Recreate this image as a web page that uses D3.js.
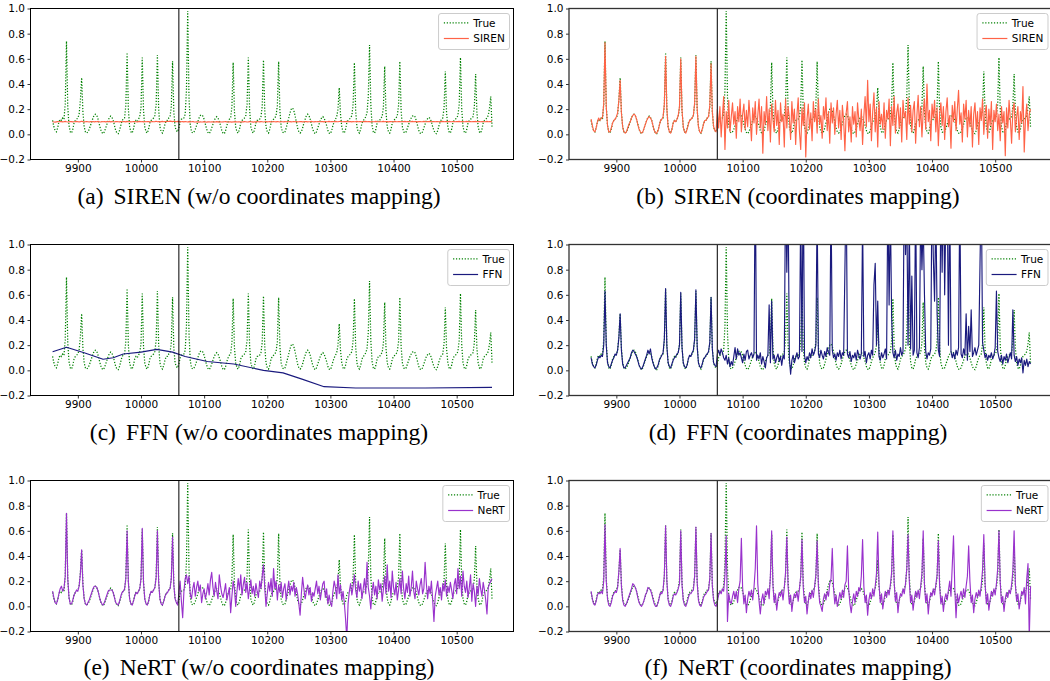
<!DOCTYPE html>
<html>
<head>
<meta charset="utf-8">
<script src="https://cdn.jsdelivr.net/npm/d3@7"></script>
<style>
  html, body { margin: 0; padding: 0; background: #fff; }
  svg { display: block; }
</style>
</head>
<body>
<script>
// Hourly samples, every second hour starting at t = 9860
const startHour = 9860;
const stepHours = 2;
const xDomain = [9825, 10590];
const yDomain = [-0.2, 1.0];
const xTicks = [9900, 10000, 10100, 10200, 10300, 10400, 10500];
const yTicks = [-0.2, 0.0, 0.2, 0.4, 0.6, 0.8, 1.0];
const splitHour = 10060;

// Ground truth load, one row per day
const trueLoad = [
  0.11,0.06,0.03,0.02,0.05,0.10,0.12,
  0.11,0.13,0.12,0.24,0.74,0.22,0.07,0.02,0.01,0.04,0.09,0.11,
  0.12,0.13,0.16,0.27,0.45,0.18,0.06,0.02,0.01,0.02,0.04,0.07,
  0.10,0.13,0.155,0.16,0.15,0.12,0.08,0.04,0.015,0.005,0.02,0.05,
  0.08,0.11,0.135,0.145,0.135,0.11,0.07,0.03,0.01,0.005,0.03,0.07,
  0.11,0.12,0.13,0.23,0.65,0.20,0.06,0.02,0.01,0.04,0.09,0.11,
  0.10,0.12,0.14,0.21,0.61,0.19,0.06,0.02,0.01,0.04,0.09,0.11,
  0.12,0.13,0.15,0.24,0.63,0.20,0.06,0.02,0.01,0.04,0.08,0.11,
  0.11,0.13,0.14,0.22,0.58,0.18,0.06,0.03,0.02,0.05,0.10,0.12,
  0.12,0.13,0.16,0.35,0.98,0.30,0.08,0.02,0.01,0.02,0.04,0.07,
  0.10,0.13,0.15,0.155,0.145,0.12,0.08,0.04,0.015,0.005,0.02,0.05,
  0.08,0.11,0.13,0.14,0.13,0.10,0.07,0.03,0.01,0.005,0.03,0.07,
  0.10,0.12,0.13,0.22,0.57,0.18,0.06,0.02,0.01,0.04,0.09,0.11,
  0.12,0.13,0.15,0.24,0.61,0.20,0.06,0.02,0.01,0.04,0.09,0.11,
  0.11,0.12,0.14,0.22,0.59,0.19,0.06,0.02,0.01,0.04,0.09,0.11,
  0.12,0.13,0.15,0.23,0.58,0.19,0.06,0.02,0.01,0.02,0.05,0.09,
  0.13,0.17,0.20,0.21,0.19,0.15,0.10,0.05,0.02,0.01,0.02,0.05,
  0.09,0.12,0.15,0.16,0.15,0.12,0.08,0.04,0.015,0.005,0.02,0.05,
  0.08,0.11,0.13,0.14,0.13,0.10,0.07,0.03,0.01,0.005,0.03,0.07,
  0.10,0.12,0.14,0.20,0.37,0.16,0.06,0.02,0.01,0.04,0.09,0.11,
  0.12,0.13,0.15,0.24,0.57,0.19,0.06,0.02,0.01,0.04,0.09,0.11,
  0.12,0.14,0.17,0.30,0.71,0.24,0.07,0.02,0.01,0.04,0.09,0.11,
  0.11,0.13,0.14,0.22,0.54,0.18,0.06,0.02,0.01,0.04,0.09,0.11,
  0.12,0.13,0.15,0.23,0.58,0.19,0.06,0.02,0.01,0.02,0.05,0.08,
  0.11,0.13,0.145,0.15,0.14,0.11,0.07,0.03,0.01,0.005,0.02,0.05,
  0.08,0.11,0.125,0.135,0.125,0.10,0.06,0.03,0.01,0.005,0.03,0.07,
  0.10,0.12,0.13,0.21,0.50,0.17,0.06,0.02,0.01,0.04,0.09,0.11,
  0.12,0.13,0.15,0.24,0.61,0.20,0.06,0.02,0.01,0.04,0.09,0.11,
  0.12,0.13,0.14,0.22,0.48,0.18,0.06,0.02,0.01,0.04,0.09,0.11,
  0.12,0.13,0.15,0.21,0.30,0.06
];

// SIREN fed with raw time stamps
const sirenPlain = [
  0.100,0.098,0.097,0.099,0.101,0.100,0.102,
  0.101,0.099,0.100,0.103,0.100,0.098,0.100,0.102,0.101,0.099,0.100,0.101,
  0.103,0.100,0.099,0.101,0.104,0.101,0.099,0.100,0.102,0.100,0.098,0.101,
  0.100,0.102,0.099,0.101,0.100,0.103,0.100,0.098,0.101,0.100,0.102,0.099,
  0.101,0.100,0.103,0.099,0.101,0.100,0.098,0.101,0.102,0.100,0.099,0.101,
  0.100,0.102,0.101,0.099,0.103,0.100,0.101,0.099,0.100,0.102,0.101,0.100,
  0.099,0.101,0.103,0.100,0.102,0.099,0.101,0.100,0.102,0.101,0.099,0.100,
  0.102,0.100,0.101,0.104,0.100,0.102,0.099,0.101,0.103,0.100,0.102,0.101,
  0.104,0.102,0.105,0.103,0.101,0.104,0.102,0.100,0.103,0.101,0.102,0.100,
  0.101,0.099,0.102,0.100,0.098,0.101,0.099,0.100,0.102,0.099,0.098,0.100,
  0.099,0.097,0.100,0.098,0.099,0.101,0.098,0.097,0.099,0.100,0.098,0.099,
  0.100,0.098,0.099,0.101,0.099,0.097,0.100,0.098,0.099,0.100,0.101,0.099,
  0.098,0.100,0.099,0.097,0.100,0.099,0.101,0.098,0.100,0.099,0.098,0.100,
  0.099,0.101,0.100,0.098,0.099,0.101,0.100,0.099,0.097,0.100,0.099,0.101,
  0.100,0.099,0.101,0.100,0.098,0.100,0.102,0.099,0.100,0.101,0.099,0.100,
  0.101,0.100,0.099,0.102,0.100,0.098,0.101,0.100,0.099,0.101,0.100,0.102,
  0.100,0.101,0.099,0.100,0.102,0.100,0.101,0.099,0.100,0.102,0.101,0.099,
  0.100,0.102,0.101,0.099,0.100,0.101,0.103,0.100,0.099,0.101,0.100,0.102,
  0.101,0.100,0.102,0.101,0.099,0.102,0.100,0.101,0.103,0.100,0.101,0.102,
  0.100,0.103,0.101,0.100,0.102,0.104,0.101,0.100,0.102,0.101,0.103,0.100,
  0.102,0.101,0.099,0.102,0.100,0.101,0.103,0.100,0.102,0.101,0.100,0.102,
  0.101,0.103,0.100,0.102,0.101,0.099,0.102,0.100,0.101,0.103,0.101,0.100,
  0.102,0.100,0.101,0.103,0.100,0.102,0.101,0.099,0.101,0.102,0.100,0.101,
  0.103,0.101,0.100,0.102,0.101,0.100,0.102,0.101,0.103,0.100,0.101,0.102,
  0.100,0.101,0.103,0.100,0.102,0.101,0.099,0.101,0.102,0.100,0.101,0.103,
  0.101,0.100,0.102,0.101,0.103,0.100,0.102,0.101,0.100,0.102,0.101,0.100,
  0.102,0.101,0.103,0.100,0.101,0.102,0.100,0.103,0.101,0.100,0.102,0.101,
  0.100,0.102,0.101,0.103,0.100,0.101,0.102,0.100,0.101,0.103,0.100,0.102,
  0.101,0.100,0.102,0.101,0.103,0.100,0.101,0.102,0.100,0.101,0.102,0.100,
  0.101,0.103,0.100,0.102,0.101,0.100
];

// SIREN fed with mapped coordinates
const sirenMapped = [
  0.12,0.07,0.03,0.02,0.05,0.10,0.13,
  0.11,0.13,0.13,0.24,0.73,0.22,0.07,0.02,0.02,0.05,0.09,0.11,
  0.12,0.14,0.17,0.27,0.43,0.17,0.06,0.02,0.01,0.02,0.05,0.08,
  0.10,0.13,0.15,0.16,0.15,0.12,0.08,0.04,0.02,0.01,0.02,0.05,
  0.08,0.11,0.13,0.14,0.13,0.11,0.07,0.03,0.01,0.01,0.03,0.07,
  0.11,0.12,0.14,0.24,0.62,0.20,0.06,0.02,0.01,0.04,0.09,0.11,
  0.10,0.12,0.15,0.22,0.60,0.19,0.06,0.02,0.01,0.04,0.08,0.11,
  0.12,0.13,0.15,0.25,0.62,0.20,0.06,0.02,0.01,0.04,0.08,0.11,
  0.11,0.13,0.14,0.23,0.56,0.18,0.06,0.03,0.02,
  0.20,0.05,0.22,-0.02,0.15,0.30,-0.12,0.18,0.05,0.27,0.02,0.14,
  0.25,0.08,0.18,-0.03,0.22,0.10,0.28,0.02,0.16,0.24,0.04,0.19,
  0.06,0.27,0.12,-0.05,0.21,0.09,0.26,0.00,0.15,0.28,0.05,0.22,
  -0.15,0.18,0.08,0.30,0.03,0.20,-0.06,0.24,0.12,0.02,0.27,0.07,
  0.19,-0.08,0.25,0.10,0.16,-0.10,0.28,0.05,0.22,0.13,-0.04,0.26,
  0.09,0.20,-0.08,0.15,0.29,0.02,-0.12,0.21,0.07,0.25,-0.18,0.12,
  0.24,0.04,0.17,-0.05,0.26,0.10,0.20,0.01,0.28,0.08,0.15,-0.03,
  0.22,0.12,0.29,0.03,0.18,-0.07,0.25,0.09,0.21,0.00,0.16,0.27,
  0.05,0.19,-0.04,0.23,0.11,-0.13,0.17,0.26,0.02,0.14,-0.06,0.22,
  0.08,0.18,-0.02,0.25,0.12,0.03,0.20,-0.08,0.15,0.30,0.06,0.43,
  0.10,0.24,-0.05,0.18,0.33,0.02,0.21,-0.10,0.26,0.08,0.16,0.04,
  0.25,-0.03,0.19,0.12,0.28,-0.09,0.22,0.07,0.30,0.01,0.17,0.24,
  0.05,0.21,-0.06,0.27,0.13,0.18,-0.04,0.29,0.08,0.23,0.02,0.19,
  0.26,-0.07,0.15,0.31,0.06,0.22,-0.02,0.18,0.28,0.04,0.40,0.10,
  0.19,-0.05,0.24,0.13,0.27,0.02,0.21,-0.09,0.16,0.25,0.07,0.22,
  -0.04,0.18,0.29,0.06,0.15,-0.11,0.23,0.10,0.26,0.03,0.20,0.35,
  0.08,0.17,-0.06,0.24,0.12,0.27,-0.02,0.19,0.06,0.22,-0.10,0.16,
  0.25,0.04,0.18,-0.08,0.21,0.11,0.28,0.00,0.17,0.23,-0.03,0.20,
  0.07,0.26,-0.12,0.19,0.10,0.24,0.03,0.16,-0.05,0.22,0.09,0.18,
  -0.17,0.21,0.05,0.27,0.12,-0.07,0.19,0.25,0.02,0.14,0.22,-0.04,
  0.18,0.09,0.38,-0.14,0.12,0.24,0.03,0.16,0.20
];

// FFN fed with raw time stamps (smooth curve, knots)
const ffnPlainX = [9860, 9882, 9910, 9940, 9956, 9972, 10000, 10025, 10050, 10070, 10105, 10147, 10194, 10225, 10255, 10290, 10340, 10450, 10556];
const ffnPlainY = [0.148, 0.183, 0.140, 0.088, 0.100, 0.130, 0.145, 0.167, 0.145, 0.110, 0.070, 0.050, 0.000, -0.020, -0.070, -0.130, -0.140, -0.140, -0.135];

// FFN fed with mapped coordinates
const ffnMapped = [
  0.10,0.05,0.03,0.02,0.04,0.08,0.11,
  0.10,0.12,0.11,0.20,0.63,0.20,0.06,0.03,0.02,0.05,0.08,0.10,
  0.13,0.12,0.16,0.26,0.45,0.16,0.05,0.02,0.02,0.04,0.06,0.08,
  0.10,0.14,0.16,0.15,0.13,0.11,0.08,0.04,0.02,0.01,0.03,0.06,
  0.09,0.12,0.16,0.13,0.17,0.10,0.06,0.03,0.01,0.02,0.04,0.08,
  0.10,0.12,0.14,0.25,0.65,0.19,0.06,0.03,0.02,0.05,0.08,0.10,
  0.11,0.13,0.14,0.20,0.62,0.18,0.06,0.03,0.02,0.04,0.09,0.12,
  0.11,0.14,0.16,0.25,0.64,0.19,0.06,0.03,0.02,0.05,0.09,0.10,
  0.12,0.13,0.15,0.22,0.58,0.17,0.06,0.04,0.03,
  0.13,0.16,0.12,0.17,0.14,0.10,0.08,0.12,0.05,0.10,0.03,0.07,
  0.04,0.11,0.18,0.09,0.17,0.12,0.14,0.10,0.06,0.13,0.08,0.15,
  0.16,0.09,0.12,0.14,0.10,0.13,1.60,0.08,0.12,0.09,0.14,0.05,
  0.11,0.07,0.02,0.10,0.12,0.52,0.06,0.55,0.09,0.12,0.06,0.10,
  0.13,0.07,0.11,0.04,0.12,0.09,1.50,0.78,1.40,0.10,-0.03,0.08,
  0.12,0.06,0.10,0.14,0.09,0.11,1.30,0.15,1.60,0.12,0.06,0.11,
  0.08,0.14,0.10,0.17,0.12,0.15,0.20,1.30,0.13,0.10,0.16,0.12,
  0.09,0.15,0.11,0.18,0.14,0.12,1.40,0.16,0.10,0.13,0.08,0.14,
  0.11,0.16,0.09,0.14,0.12,0.80,1.50,0.13,0.10,0.15,0.07,0.12,
  0.10,0.14,0.08,0.16,0.12,0.09,0.13,1.20,0.11,0.15,0.06,0.12,
  0.14,0.09,0.16,0.12,0.68,0.85,0.20,0.55,0.11,0.08,0.14,0.10,
  0.13,0.17,0.09,1.40,0.52,1.30,0.42,0.14,0.10,0.16,0.08,0.13,
  0.11,0.18,0.12,0.15,1.50,0.92,1.30,0.20,1.20,0.17,0.75,0.12,
  0.16,1.40,0.14,0.10,0.18,1.30,0.80,1.20,0.60,0.15,0.09,0.14,
  0.12,0.17,1.50,0.90,0.55,1.30,0.45,0.16,0.11,1.40,0.78,1.60,
  0.60,1.30,1.50,0.20,1.40,0.15,0.10,0.14,0.09,0.16,0.12,0.18,
  1.40,0.13,0.10,0.17,0.12,0.45,0.08,0.35,0.15,0.48,0.11,0.14,
  0.18,0.12,0.16,0.20,0.85,1.50,0.22,0.16,0.10,0.13,0.08,0.12,
  0.10,0.14,0.09,0.12,0.18,0.63,0.15,0.10,0.07,0.12,0.05,0.11,
  0.08,0.13,0.06,0.10,0.14,0.09,0.48,0.12,0.07,0.11,0.04,0.09,
  0.06,0.10,-0.02,0.08,0.04,0.09,0.03,0.07,0.05
];

// NeRT fed with raw time stamps
const nertPlain = [
  0.12,0.07,0.03,0.02,0.05,0.10,0.14,
  0.16,0.12,0.14,0.24,0.74,0.22,0.07,0.02,0.02,0.05,0.09,0.11,
  0.13,0.12,0.16,0.26,0.45,0.17,0.06,0.02,0.01,0.03,0.05,0.08,
  0.11,0.14,0.16,0.16,0.15,0.12,0.08,0.04,0.02,0.01,0.03,0.06,
  0.09,0.12,0.13,0.13,0.13,0.11,0.07,0.03,0.02,0.01,0.04,0.08,
  0.11,0.12,0.14,0.22,0.60,0.19,0.06,0.02,0.01,0.04,0.08,0.11,
  0.10,0.12,0.14,0.22,0.62,0.19,0.06,0.02,0.01,0.04,0.09,0.12,
  0.11,0.13,0.15,0.23,0.60,0.19,0.06,0.02,0.01,0.04,0.08,0.10,
  0.11,0.13,0.14,0.22,0.55,0.17,0.06,0.03,0.01,
  0.10,0.20,0.04,-0.09,0.12,0.22,0.25,0.18,0.24,0.10,0.06,0.14,
  0.19,0.08,0.15,0.20,0.12,0.17,0.03,0.10,0.14,0.06,0.11,0.18,
  0.09,0.21,0.27,0.15,0.08,0.19,0.12,0.06,0.25,0.16,0.10,0.07,
  0.12,0.18,0.05,0.10,0.15,-0.05,0.08,0.20,0.14,0.00,0.12,0.22,
  0.13,0.25,0.09,0.17,0.23,0.11,0.19,0.06,0.14,0.21,0.10,0.16,
  0.08,0.18,0.12,0.07,0.20,0.14,0.24,0.33,0.15,0.00,0.10,0.19,
  0.12,0.22,0.08,0.30,0.14,0.20,0.05,0.17,0.11,0.19,0.07,0.14,
  0.18,0.05,0.13,0.20,0.09,0.16,0.12,0.19,0.08,0.15,0.10,0.02,
  -0.07,0.10,0.23,0.14,0.06,0.12,0.17,0.09,0.15,0.04,0.11,0.08,
  0.14,0.20,0.10,0.16,0.05,0.12,0.18,0.20,0.07,0.14,0.02,0.09,
  0.03,0.00,0.12,0.20,0.15,0.06,0.25,0.10,0.17,0.05,0.12,0.03,
  -0.10,-0.26,0.02,0.12,0.18,0.09,0.16,0.25,0.13,0.07,0.20,0.12,
  0.18,0.06,0.14,0.22,0.10,0.35,0.15,0.08,-0.02,0.12,0.19,0.09,
  0.16,0.06,0.21,0.13,0.18,0.04,0.14,0.24,0.10,0.33,0.12,0.20,
  0.07,0.28,0.15,0.09,0.19,0.05,0.13,0.22,0.10,0.28,0.14,0.06,
  0.18,0.11,0.24,0.08,0.15,0.28,0.12,0.06,0.20,0.14,0.09,0.17,
  0.22,0.10,0.14,0.35,0.18,0.06,0.16,0.10,0.20,0.05,-0.12,0.08,
  0.14,0.20,0.09,0.15,0.05,0.18,0.12,0.21,0.08,0.16,0.11,0.19,
  0.13,0.06,0.17,0.22,0.10,0.30,0.14,0.24,0.08,0.28,0.16,0.11,
  0.20,0.07,0.15,0.25,0.04,0.18,0.12,0.00,0.16,0.09,0.22,0.14,
  0.08,0.19,0.13,0.05,-0.06,0.15,0.18,0.20,0.22
];

// NeRT fed with mapped coordinates
const nertMapped = [
  0.12,0.06,0.02,0.01,0.04,0.09,0.11,
  0.10,0.12,0.10,0.20,0.65,0.20,0.06,0.01,0.00,0.03,0.08,0.10,
  0.12,0.11,0.15,0.28,0.46,0.16,0.05,0.01,0.00,0.02,0.05,0.08,
  0.11,0.14,0.18,0.17,0.15,0.12,0.07,0.03,0.01,0.00,0.02,0.05,
  0.09,0.11,0.15,0.14,0.13,0.10,0.06,0.02,0.00,0.00,0.03,0.07,
  0.11,0.10,0.13,0.25,0.64,0.20,0.05,0.01,0.00,0.03,0.08,0.10,
  0.09,0.11,0.14,0.18,0.60,0.17,0.05,0.01,0.00,0.03,0.07,0.10,
  0.10,0.12,0.13,0.24,0.63,0.19,0.05,0.01,0.00,0.03,0.07,0.09,
  0.10,0.12,0.13,0.22,0.58,0.16,0.05,0.01,0.00,
  0.04,0.09,0.12,
  0.10,0.14,0.12,0.25,0.56,-0.12,0.10,0.04,0.02,0.08,0.12,0.06,
  0.12,0.03,0.14,0.20,0.54,0.15,0.02,0.09,-0.05,0.06,0.12,0.08,
  0.13,0.05,0.15,0.30,0.64,0.18,0.04,-0.06,0.05,0.10,0.02,0.12,
  0.09,0.14,0.06,0.25,0.60,0.17,0.03,0.10,-0.03,0.06,0.11,0.08,
  0.13,0.05,0.15,0.27,0.55,0.16,0.02,0.09,-0.04,0.05,0.10,0.07,
  0.12,0.04,0.14,0.24,0.53,0.15,0.03,0.08,-0.06,0.04,0.11,0.06,
  0.13,0.07,0.16,0.25,0.52,0.16,0.03,0.00,-0.04,0.06,0.10,0.05,
  0.12,0.08,0.18,0.22,0.46,0.14,0.02,0.09,0.00,0.05,0.11,0.06,
  0.13,0.07,0.17,0.20,0.48,0.13,0.02,-0.05,0.04,0.10,0.03,0.12,
  0.08,0.15,0.12,0.24,0.53,0.16,0.03,0.09,-0.07,0.05,0.11,0.06,
  0.14,0.08,0.16,0.26,0.59,0.18,0.03,0.10,-0.02,0.06,0.12,0.07,
  0.13,0.09,0.17,0.27,0.60,0.19,0.04,0.11,-0.05,0.05,0.10,0.08,
  0.14,0.10,0.18,0.30,0.57,0.20,0.03,0.09,-0.03,0.06,0.12,0.07,
  0.13,0.06,0.16,0.26,0.60,0.17,0.03,0.10,-0.06,0.05,0.11,0.08,
  0.14,0.09,0.17,0.25,0.52,0.16,0.02,0.08,-0.04,0.06,0.10,0.05,
  0.13,0.20,0.08,0.32,0.56,0.15,-0.09,0.10,0.03,0.08,0.12,0.06,
  0.14,0.07,0.16,0.24,0.48,0.20,0.03,0.09,-0.05,0.06,0.11,0.07,
  0.13,0.08,0.17,0.29,0.57,0.18,0.02,0.10,-0.03,0.05,0.12,0.08,
  0.14,0.09,0.18,0.30,0.60,0.19,0.03,0.08,-0.04,0.06,0.11,0.07,
  0.13,0.10,0.17,0.28,0.60,0.17,0.04,0.10,-0.02,0.05,0.12,0.09,
  0.15,0.02,0.22,0.34,-0.25,0.16
];

const panels = [
  { col: 0, row: 0, tag: "(a)", model: "SIREN", note: "(w/o coordinates mapping)", color: "#ff6347", values: sirenPlain },
  { col: 1, row: 0, tag: "(b)", model: "SIREN", note: "(coordinates mapping)",     color: "#ff6347", values: sirenMapped },
  { col: 0, row: 1, tag: "(c)", model: "FFN",   note: "(w/o coordinates mapping)", color: "#1a1a7e", values: ffnPlainY, xs: ffnPlainX },
  { col: 1, row: 1, tag: "(d)", model: "FFN",   note: "(coordinates mapping)",     color: "#1a1a7e", values: ffnMapped },
  { col: 0, row: 2, tag: "(e)", model: "NeRT",  note: "(w/o coordinates mapping)", color: "#9932cc", values: nertPlain },
  { col: 1, row: 2, tag: "(f)", model: "NeRT",  note: "(coordinates mapping)",     color: "#9932cc", values: nertMapped }
];

// Layout
const W = 1050, H = 681;
const colLeft = [30.5, 569];
const rowTop = [8.5, 244.5, 480.5];
const plotW = 483, plotH = 151;
const captionX = [259, 798];
const captionY = [204, 440, 675];
const tickFont = "DejaVu Sans, sans-serif";
const captionFont = "Liberation Serif, 'Times New Roman', serif";
const trueColor = "#008000";
const frameStyle = [
  { color: "#000", width: 1 },
  { color: "#333", width: 1.3 }
];

const svg = d3.select("body").append("svg")
  .attr("width", W).attr("height", H)
  .attr("viewBox", `0 0 ${W} ${H}`);

const x = d3.scaleLinear().domain(xDomain).range([0, plotW]);
const y = d3.scaleLinear().domain(yDomain).range([plotH, 0]);
const fmt = d3.format(".1f");

function seriesLine(xs) {
  return d3.line()
    .x((d, i) => x(xs ? xs[i] : startHour + stepHours * i))
    .y(d => y(d));
}

panels.forEach((p, idx) => {
  const fs = frameStyle[p.col];
  const g = svg.append("g")
    .attr("transform", `translate(${colLeft[p.col]},${rowTop[p.row]})`);

  const clipId = "clip-" + idx;
  g.append("clipPath").attr("id", clipId)
    .append("rect").attr("x", 0).attr("y", 0).attr("width", plotW).attr("height", plotH);

  const plot = g.append("g").attr("clip-path", `url(#${clipId})`);

  plot.append("path")
    .datum(trueLoad)
    .attr("d", seriesLine(null))
    .attr("fill", "none")
    .attr("stroke", trueColor)
    .attr("stroke-width", 1.25)
    .attr("stroke-dasharray", "1.2,1.7");

  plot.append("path")
    .datum(p.values)
    .attr("d", seriesLine(p.xs))
    .attr("fill", "none")
    .attr("stroke", p.color)
    .attr("stroke-width", 1.15)
    .attr("stroke-linejoin", "round");

  // train / test boundary
  g.append("line")
    .attr("x1", x(splitHour)).attr("x2", x(splitHour))
    .attr("y1", 0).attr("y2", plotH)
    .attr("stroke", fs.color).attr("stroke-width", fs.width);

  // axes
  const ax = g.append("g")
    .attr("transform", `translate(0,${plotH})`)
    .call(d3.axisBottom(x).tickValues(xTicks).tickFormat(d3.format("d")).tickSize(3).tickPadding(2));
  const ay = g.append("g")
    .call(d3.axisLeft(y).tickValues(yTicks).tickFormat(fmt).tickSize(3).tickPadding(2.5));
  [ax, ay].forEach(a => {
    a.select(".domain").remove();
    a.selectAll("line").attr("stroke", "#000").attr("stroke-width", 0.8);
    a.selectAll("text")
      .attr("fill", "#000")
      .style("font-family", tickFont)
      .style("font-size", "10.5px");
  });

  g.append("rect")
    .attr("x", 0).attr("y", 0).attr("width", plotW).attr("height", plotH)
    .attr("fill", "none").attr("stroke", fs.color).attr("stroke-width", fs.width);

  // legend
  const lg = g.append("g");
  const box = lg.append("rect");
  const entries = [
    { label: "True", color: trueColor, dash: "1.2,1.7" },
    { label: p.model, color: p.color, dash: null }
  ];
  const textX = 34.7;
  let maxW = 0;
  entries.forEach((e, i) => {
    const cy = 9.4 + i * 15.6;
    lg.append("line")
      .attr("x1", 5.3).attr("x2", 30.3).attr("y1", cy).attr("y2", cy)
      .attr("stroke", e.color).attr("stroke-width", 1.2)
      .attr("stroke-dasharray", e.dash);
    const t = lg.append("text")
      .attr("x", textX).attr("y", cy).attr("dy", "0.35em")
      .style("font-family", tickFont).style("font-size", "10.5px")
      .attr("fill", "#000")
      .text(e.label);
    maxW = Math.max(maxW, t.node().getComputedTextLength());
  });
  const boxW = textX + maxW + 4.7;
  box.attr("x", 0).attr("y", 0).attr("width", boxW).attr("height", 36)
    .attr("rx", 2.5).attr("ry", 2.5)
    .attr("fill", "#fff").attr("fill-opacity", 0.8)
    .attr("stroke", "#cccccc").attr("stroke-width", 1);
  lg.attr("transform", `translate(${plotW - 4 - boxW},5)`);

  // caption
  const cap = svg.append("text")
    .attr("x", captionX[p.col]).attr("y", captionY[p.row])
    .attr("text-anchor", "middle")
    .style("font-family", captionFont).style("font-size", "23.5px")
    .attr("fill", "#000");
  cap.append("tspan").text(p.tag);
  cap.append("tspan").attr("dx", 10).text(`${p.model} ${p.note}`);
});
</script>
</body>
</html>
